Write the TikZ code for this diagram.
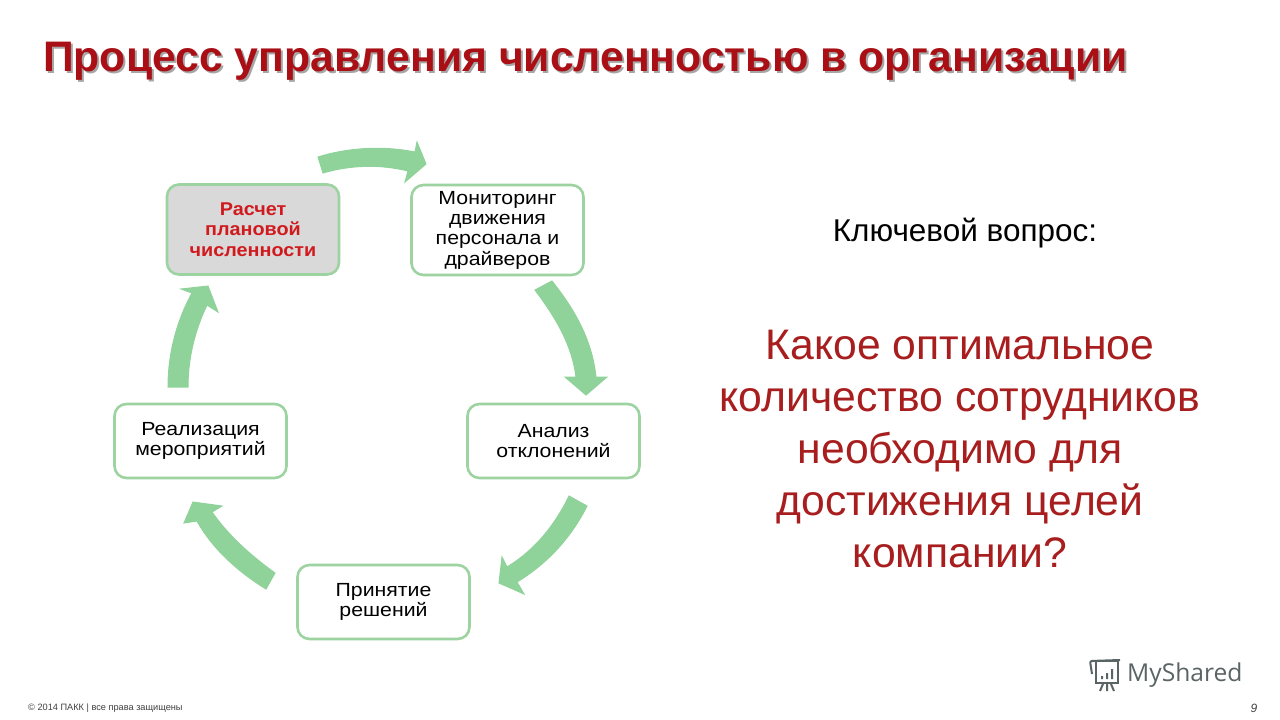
\documentclass[tikz,border=0pt]{standalone}
\usepackage{fontspec}
\setmainfont{Liberation Sans}
\newfontfamily\logofont{Open Sans}
\newfontfamily\stagefont[FakeStretch=1.12]{Liberation Sans}
\newfontfamily\stageboldfont[FakeStretch=1.07]{Liberation Sans Bold}
\usetikzlibrary{calc}
\definecolor{pastelgreen}{HTML}{8FD39A}
\definecolor{boxgreen}{HTML}{9CD3A0}
\definecolor{titlered}{HTML}{A90F14}
\definecolor{askred}{HTML}{A81E1E}
\definecolor{boxred}{HTML}{D01A1E}
\definecolor{logogray}{HTML}{5A6464}
\tikzset{
  stagebox/.style={draw=boxgreen, line width=2.6pt, rounded corners=12pt, fill=white, minimum width=172pt, align=center, text=black, font=\fontsize{19}{20.3}\stagefont, inner sep=0pt},
  turn/.style={fill=pastelgreen, draw=pastelgreen, line width=1pt},
  logoline/.style={draw=logogray, line width=2pt}
}
\begin{document}
\begin{tikzpicture}[x=1pt, y=-1pt]
        \useasboundingbox (0,0) rectangle (1280,720);
        \fill[white] (0,0) rectangle (1280,720);
        % title with its shadow
        \node[anchor=base west, inner sep=0pt, text=black!35, font=\fontsize{42.7}{46}\bfseries] (titleshadow) at (45,73) {Процесс управления численностью в организации};
        \node[anchor=base west, inner sep=0pt, text=titlered, font=\fontsize{42.7}{46}\bfseries] (title) at (43,71) {Процесс управления численностью в организации};
        % stages
        \node[stagebox, fill=black!15, minimum height=90pt, text=boxred, font=\fontsize{18.5}{20.3}\stageboldfont] (plan) at (253,229.5) {Расчет\\плановой\\численности};
        \node[stagebox, minimum height=90pt] (monitor) at (497.5,230) {Мониторинг\\движения\\персонала и\\драйверов};
        \node[stagebox, minimum height=74pt] (analysis) at (553.5,441) {Анализ\\отклонений};
        \node[stagebox, minimum height=74pt] (decision) at (383.5,602) {Принятие\\решений};
        \node[stagebox, minimum height=74pt] (action) at (200.5,441) {Реализация\\мероприятий};
        % arrows between stages
        \fill[turn] (318,157) .. controls (350,147) and (385,146) .. (415,152) -- (417,142) -- (426,164) -- (405,182) -- (408,171) .. controls (380,164) and (350,165) .. (323,173) -- cycle;
        \fill[turn] (552,281) .. controls (575,310) and (592,340) .. (596,377) -- (607,377) -- (586,395) -- (565,377) -- (576,377) .. controls (572,345) and (556,318) .. (535,290) -- cycle;
        \fill[turn] (587,506) .. controls (570,540) and (545,565) .. (517,582) -- (524,594) -- (499,583) -- (502,557) -- (507,567) .. controls (535,550) and (555,525) .. (569,496) -- cycle;
        \fill[turn] (275,573) .. controls (250,555) and (228,535) .. (212,512) -- (222,506) -- (193,502) -- (184,523) -- (197,521) .. controls (213,550) and (240,573) .. (266,589) -- cycle;
        \fill[turn] (168,387) .. controls (168,355) and (176,322) .. (192,293) -- (181,289) -- (208,286) -- (218,312) -- (207,305) .. controls (195,330) and (188,358) .. (188,387) -- cycle;
        % right side
        \node[inner sep=0pt, font=\fontsize{31.5}{34}\selectfont] (keylabel) at (965,233) {Ключевой вопрос:};
        \node[inner sep=0pt, align=center, text=askred, font=\fontsize{42.7}{51.8}\selectfont] (question) at (960,449) {Какое оптимальное\\количество сотрудников\\необходимо для\\достижения целей\\компании?};
        % footer
        \node[anchor=west, inner sep=0pt, text=black!75, font=\fontsize{9.2}{10}\selectfont] (copyright) at (28,708) {© 2014 ПАКК | все права защищены};
        \node[inner sep=0pt, text=black!75, font=\fontsize{12}{14}\itshape] (pagenum) at (1254,708) {9};
        % logo
        \node[anchor=west, inner sep=0pt, text=logogray, font=\fontsize{24.6}{30}\logofont] (logotext) at (1127,675) {MyShared};
        \draw[logoline, rounded corners=2pt] (1092,674) -- (1090,661) -- (1120,660);
        \draw[logoline] (1096,661) rectangle (1118,683);
        \fill[logogray] (1101,676) rectangle (1103,679) (1106,673) rectangle (1108,679) (1111,669) rectangle (1113,679);
        \draw[logoline] (1103,684) -- (1100,691) (1107,684) -- (1107,691) (1111,684) -- (1114,691);
    \end{tikzpicture}
\end{document}
